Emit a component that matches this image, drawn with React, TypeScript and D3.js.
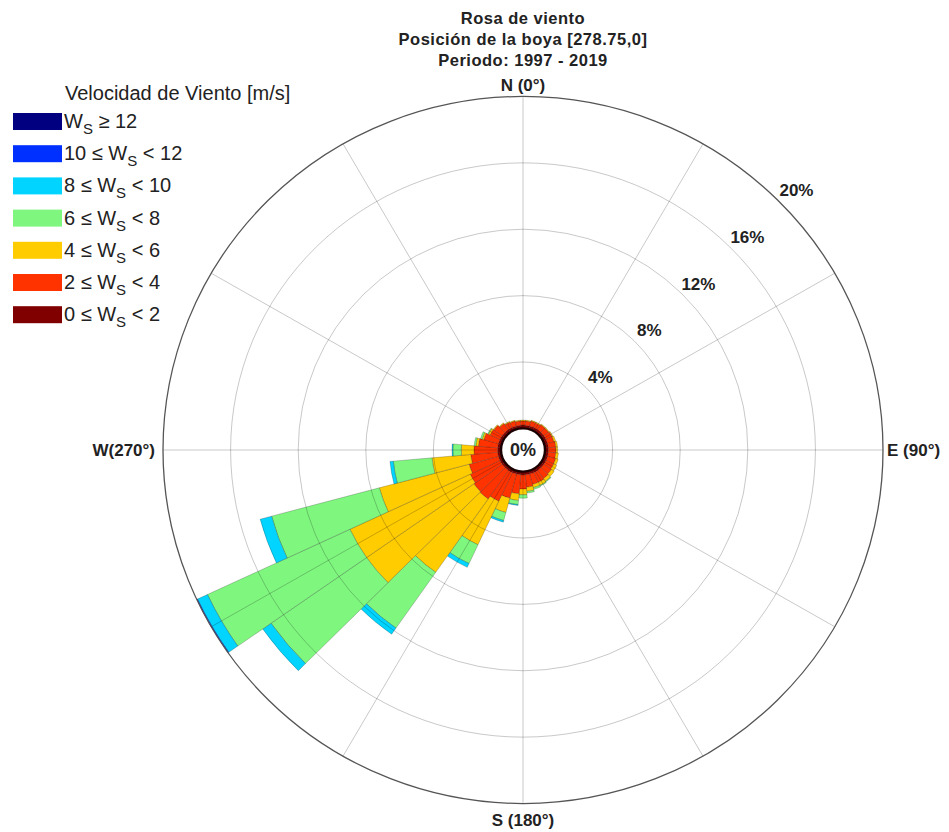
import React from 'react';
import * as d3 from 'd3';

// Direction bins (degrees, clockwise from north), 10° wide
const directions = [
  0, 10, 20, 30, 40, 50, 60, 70, 80, 90, 100, 110,
  120, 130, 140, 150, 160, 170, 180, 190, 200, 210, 220, 230,
  240, 250, 260, 270, 280, 290, 300, 310, 320, 330, 340, 350,
];

// Frequency (%) of each speed class per direction
const ws0to2 = [
  0.2, 0.2, 0.2, 0.2, 0.2, 0.2, 0.2, 0.2, 0.2, 0.2, 0.2, 0.2,
  0.2, 0.2, 0.2, 0.2, 0.2, 0.2, 0.2, 0.2, 0.2, 0.2, 0.2, 0.2,
  0.2, 0.2, 0.2, 0.2, 0.2, 0.2, 0.2, 0.2, 0.2, 0.2, 0.2, 0.2,
];
const ws2to4 = [
  0.25, 0.25, 0.3, 0.3, 0.35, 0.35, 0.4, 0.4, 0.45, 0.45, 0.45, 0.5,
  0.5, 0.55, 0.6, 0.65, 0.65, 0.75, 0.85, 1.15, 1.5, 1.9, 2.1, 2.05,
  1.95, 1.8, 1.6, 1.4, 1.15, 0.9, 0.65, 0.6, 0.45, 0.35, 0.3, 0.25,
];
const ws4to6 = [
  0.05, 0.05, 0.05, 0.05, 0.05, 0.05, 0.05, 0.1, 0.1, 0.1, 0.15, 0.15,
  0.2, 0.2, 0.2, 0.2, 0.2, 0.25, 0.35, 0.4, 0.9, 2.9, 5.4, 7.75,
  7.85, 5.5, 2.3, 0.75, 0.15, 0.1, 0.1, 0.05, 0.05, 0.05, 0.05, 0.05,
];
const ws6to8 = [
  0, 0, 0, 0, 0, 0, 0, 0, 0, 0, 0, 0,
  0, 0, 0.05, 0.05, 0.1, 0.1, 0.2, 0.25, 0.5, 1.25, 4.1, 6.9,
  9.3, 6.6, 2.3, 0.5, 0.1, 0.1, 0.05, 0, 0, 0, 0, 0,
];
const ws8to10 = [
  0, 0, 0, 0, 0, 0, 0, 0, 0, 0, 0, 0,
  0, 0, 0, 0, 0, 0, 0, 0.05, 0.1, 0.25, 0.45, 0.6,
  0.65, 0.7, 0.2, 0.05, 0, 0, 0, 0, 0, 0, 0, 0,
];
const ws10to12 = [
  0, 0, 0, 0, 0, 0, 0, 0, 0, 0, 0, 0,
  0, 0, 0, 0, 0, 0, 0, 0, 0, 0, 0, 0,
  0.05, 0, 0, 0, 0, 0, 0, 0, 0, 0, 0, 0,
];
const ws12up = [
  0, 0, 0, 0, 0, 0, 0, 0, 0, 0, 0, 0,
  0, 0, 0, 0, 0, 0, 0, 0, 0, 0, 0, 0,
  0, 0, 0, 0, 0, 0, 0, 0, 0, 0, 0, 0,
];

const speedClasses = [ws0to2, ws2to4, ws4to6, ws6to8, ws8to10, ws10to12, ws12up];
const classColors = ['#800000', '#ff3300', '#ffcc00', '#7ff77f', '#00d4ff', '#0030ff', '#000080'];

// Legend rows, top to bottom: [before subscript, after subscript]
const legendRows = [
  ['W', ' \u2265 12'],
  ['10 \u2264 W', ' < 12'],
  ['8 \u2264 W', ' < 10'],
  ['6 \u2264 W', ' < 8'],
  ['4 \u2264 W', ' < 6'],
  ['2 \u2264 W', ' < 4'],
  ['0 \u2264 W', ' < 2'],
];
const legendColors = ['#000080', '#0030ff', '#00d4ff', '#7ff77f', '#ffcc00', '#ff3300', '#800000'];

const radialTicks = [4, 8, 12, 16, 20];
const spokeAngles = [0, 30, 60, 90, 120, 150, 180, 210, 240, 270, 300, 330];
const titleLines = ['Rosa de viento', 'Posición de la boya [278.75,0]', 'Periodo: 1997 - 2019'];

const FONT = '"Liberation Sans", Arial, Helvetica, sans-serif';

export default function App() {
  const width = 949;
  const height = 832;
  const cx = 523;
  const cy = 450;
  const sy = 0.982;
  const r = d3.scaleLinear().domain([0, 20]).range([22, 360]);
  const arc = d3.arc();
  const half = (5 * Math.PI) / 180;
  const toRad = (deg) => (deg * Math.PI) / 180;

  const wedges = [];
  directions.forEach((dir, i) => {
    let acc = 0;
    speedClasses.forEach((cls, j) => {
      const v = cls[i];
      if (v <= 0) return;
      const inner = acc;
      acc += v;
      wedges.push({
        key: `${dir}-${j}`,
        d: arc({
          innerRadius: r(inner),
          outerRadius: r(acc),
          startAngle: toRad(dir) - half,
          endAngle: toRad(dir) + half,
        }),
        fill: classColors[j],
      });
    });
  });

  const labelAngle = toRad(46.5);

  return (
    <svg
      width={width}
      height={height}
      style={{ position: 'absolute', left: 0, top: 0, background: '#fff' }}
      fontFamily={FONT}
    >
      <rect width={width} height={height} fill="#fff" />
      {titleLines.map((t, i) => (
        <text key={t} x={cx} y={24 + i * 21} textAnchor="middle" fontWeight="bold" fontSize={16.5} letterSpacing={0.5} fill="#222">
          {t}
        </text>
      ))}

      <g transform={`translate(${cx},${cy}) scale(1,${sy})`}>
        {wedges.map((w) => (
          <path key={w.key} d={w.d} fill={w.fill} stroke="#000" strokeOpacity={0.3} strokeWidth={0.7} />
        ))}
        {radialTicks.slice(0, -1).map((t) => (
          <circle key={t} r={r(t)} fill="none" stroke="#000" strokeOpacity={0.22} strokeWidth={1} />
        ))}
        {spokeAngles.map((a) => (
          <line
            key={a}
            x1={r(0) * Math.sin(toRad(a))}
            y1={-r(0) * Math.cos(toRad(a))}
            x2={r(20) * Math.sin(toRad(a))}
            y2={-r(20) * Math.cos(toRad(a))}
            stroke="#000"
            strokeOpacity={0.22}
            strokeWidth={1}
          />
        ))}
        <circle r={r(20)} fill="none" stroke="#555" strokeWidth={1.3} />
        <circle r={r(0)} fill="#fff" stroke="#1a0000" strokeWidth={2.4} />
      </g>

      <text x={cx} y={cy + 6} textAnchor="middle" fontWeight="bold" fontSize={18} fill="#222">0%</text>

      {radialTicks.map((t) => (
        <text
          key={t}
          x={cx + (r(t) + 17) * Math.sin(labelAngle)}
          y={cy - (r(t) + 17) * Math.cos(labelAngle) + 6}
          textAnchor="middle"
          fontWeight="bold"
          fontSize={17}
          fill="#222"
        >
          {`${t}%`}
        </text>
      ))}

      <text x={cx} y={91} textAnchor="middle" fontWeight="bold" fontSize={17} fill="#222">N (0°)</text>
      <text x={cx} y={826} textAnchor="middle" fontWeight="bold" fontSize={17} fill="#222">S (180°)</text>
      <text x={887} y={456} textAnchor="start" fontWeight="bold" fontSize={17} fill="#222">E (90°)</text>
      <text x={155} y={456} textAnchor="end" fontWeight="bold" fontSize={17} fill="#222">W(270°)</text>

      <text x={65} y={100} fontSize={20} fill="#222">Velocidad de Viento [m/s]</text>
      {legendRows.map((row, i) => {
        const top = 113 + i * 32.2;
        return (
          <g key={i}>
            <rect x={13} y={top} width={49} height={17} fill={legendColors[i]} />
            <text x={64} y={top + 15} fontSize={20} fill="#222" style={{ whiteSpace: 'pre' }}>
              <tspan>{row[0]}</tspan>
              <tspan dy={6} fontSize={15}>S</tspan>
              <tspan dy={-6}>{row[1]}</tspan>
            </text>
          </g>
        );
      })}
    </svg>
  );
}
